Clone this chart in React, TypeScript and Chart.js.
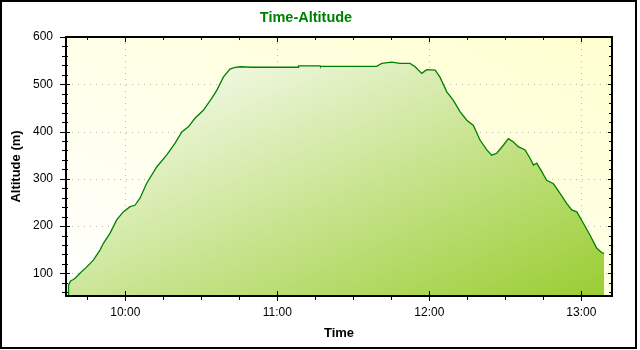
import React, { useEffect, useRef } from 'react';
import { Chart, registerables } from 'chart.js';

Chart.register(...registerables);

// ---- Data ----
const TIMES: string[] = [
  '09:37:24', '09:37:36', '09:38:24', '09:39:30', '09:40:30', '09:42:06', '09:44:30', '09:47:24',
  '09:50:00', '09:51:18', '09:54:00', '09:56:36', '09:59:12', '10:01:54', '10:03:48', '10:05:48',
  '10:08:24', '10:12:24', '10:16:18', '10:19:36', '10:22:18', '10:24:54', '10:27:30', '10:30:48',
  '10:34:06', '10:36:06', '10:38:42', '10:41:18', '10:43:00', '10:45:18', '10:49:54', '11:08:18',
  '11:08:24', '11:16:54', '11:17:00', '11:39:12', '11:41:12', '11:45:12', '11:48:24', '11:52:24',
  '11:54:24', '11:57:00', '11:59:00', '12:02:18', '12:04:12', '12:06:54', '12:09:30', '12:12:06',
  '12:14:48', '12:17:24', '12:20:00', '12:22:42', '12:24:36', '12:26:36', '12:29:12', '12:31:12',
  '12:33:12', '12:35:06', '12:37:48', '12:39:48', '12:41:06', '12:42:24', '12:44:24', '12:46:18',
  '12:48:54', '12:51:36', '12:54:12', '12:56:12', '12:58:12', '13:00:48', '13:03:24', '13:06:06',
  '13:08:00', '13:09:00',
];
const ALTITUDES: number[] = [
  52, 75, 84, 87, 91, 100, 112, 128,
  149, 163, 185, 213, 230, 241, 244, 259,
  290, 325, 350, 375, 399, 410, 428, 445,
  470, 487, 515, 532, 535, 537, 536, 536,
  539, 539, 538, 538, 544, 547, 544, 544,
  537, 523, 531, 530, 515, 484, 466, 442,
  424, 413, 382, 361, 350, 354, 371, 385,
  378, 368, 361, 343, 329, 333, 315, 297,
  290, 269, 248, 234, 230, 206, 181, 153,
  144, 142,
];
const X_TICK_LABELS: string[] = ['10:00', '11:00', '12:00', '13:00'];
const Y_TICK_VALUES: number[] = [100, 200, 300, 400, 500, 600];
const X_MIN_TIME = '09:36:36';
const X_MAX_TIME = '13:12:06';
const Y_MIN = 52;
const Y_MAX = 600;
const X_MINOR_STEP = 15; // minutes
const Y_MINOR_STEP = 20; // metres

const TITLE = 'Time-Altitude';
const X_TITLE = 'Time';
const Y_TITLE = 'Altitude (m)';

// ---- Styles ----
const FONT = '"Liberation Sans", Arial, sans-serif';
const LINE_COLOR = '#008000';
const FILL_START = '#ffffff';
const FILL_END = '#9acd32';
const BG_START = '#ffffff';
const BG_END = '#ffffd0';
const GRID_COLOR = '#b8b8b8';

const toMin = (s: string): number => {
  const [h, m, sec = '0'] = s.split(':');
  return Number(h) * 60 + Number(m) + Number(sec) / 60;
};
const X_TICK_VALUES = X_TICK_LABELS.map(toMin);

// Gradient whose isolines run along the box's other diagonal (normalised-box diagonal gradient)
function boxDiagonalGradient(ctx: CanvasRenderingContext2D, l: number, t: number, w: number, h: number, fromBottom: boolean) {
  const gx = 1 / (2 * w);
  const gy = (fromBottom ? -1 : 1) / (2 * h);
  const n = gx * gx + gy * gy;
  const x0 = l;
  const y0 = fromBottom ? t + h : t;
  return ctx.createLinearGradient(x0, y0, x0 + gx / n, y0 + gy / n);
}

const decor = {
  id: 'decor',
  beforeDatasetsDraw(chart: any) {
    const { ctx, chartArea: a, scales } = chart;
    const x = scales.x;
    const y = scales.y;
    ctx.save();
    const g = boxDiagonalGradient(ctx, a.left, a.top, a.width, a.height, true);
    g.addColorStop(0, BG_START);
    g.addColorStop(1, BG_END);
    ctx.fillStyle = g;
    ctx.fillRect(a.left, a.top, a.width, a.height);

    ctx.strokeStyle = GRID_COLOR;
    ctx.lineWidth = 1;
    ctx.setLineDash([1, 5]);
    for (const v of X_TICK_VALUES) {
      const px = Math.round(x.getPixelForValue(v)) + 0.5;
      ctx.beginPath();
      ctx.moveTo(px, a.top);
      ctx.lineTo(px, a.bottom);
      ctx.stroke();
    }
    for (const v of Y_TICK_VALUES) {
      const py = Math.round(y.getPixelForValue(v)) + 0.5;
      ctx.beginPath();
      ctx.moveTo(a.left, py);
      ctx.lineTo(a.right, py);
      ctx.stroke();
    }
    ctx.restore();
  },
  afterDatasetsDraw(chart: any) {
    const { ctx, chartArea: a, scales } = chart;
    const x = scales.x;
    const y = scales.y;
    ctx.save();
    ctx.setLineDash([]);
    ctx.strokeStyle = '#000';
    ctx.lineWidth = 2;
    ctx.strokeRect(a.left, a.top, a.width, a.height);
    ctx.lineWidth = 1;
    const seg = (x1: number, y1: number, x2: number, y2: number) => {
      ctx.beginPath();
      ctx.moveTo(x1, y1);
      ctx.lineTo(x2, y2);
      ctx.stroke();
    };
    for (let v = Math.ceil(Y_MIN / Y_MINOR_STEP) * Y_MINOR_STEP; v <= Y_MAX; v += Y_MINOR_STEP) {
      const py = Math.round(y.getPixelForValue(v)) + 0.5;
      const major = v % 100 === 0;
      seg(a.left - (major ? 6 : 4), py, a.left + (major ? 4 : 2), py);
      seg(a.right - (major ? 4 : 3), py, a.right, py);
    }
    const xmin = toMin(X_MIN_TIME);
    const xmax = toMin(X_MAX_TIME);
    for (let v = Math.ceil(xmin / X_MINOR_STEP) * X_MINOR_STEP; v <= xmax; v += X_MINOR_STEP) {
      const px = Math.round(x.getPixelForValue(v)) + 0.5;
      const major = v % 60 === 0;
      seg(px, a.bottom - (major ? 5 : 1), px, a.bottom + (major ? 5 : 4));
      seg(px, a.top, px, a.top + (major ? 5 : 3));
    }
    ctx.restore();
  },
  afterDraw(chart: any) {
    const { ctx } = chart;
    ctx.save();
    ctx.strokeStyle = '#000';
    ctx.lineWidth = 2;
    ctx.setLineDash([]);
    ctx.strokeRect(1, 1, 635, 347);
    ctx.restore();
  },
};

export default function App() {
  const ref = useRef<HTMLCanvasElement | null>(null);
  useEffect(() => {
    const canvas = ref.current;
    if (!canvas) return;
    const data = TIMES.map((t, i) => ({ x: toMin(t), y: ALTITUDES[i] }));
    const chart = new Chart(canvas, {
      type: 'line',
      data: {
        datasets: [
          {
            data,
            borderColor: LINE_COLOR,
            borderWidth: 1.3,
            pointRadius: 0,
            tension: 0,
            fill: 'start',
            backgroundColor: (c: any) => {
              const ch = c.chart;
              const a = ch.chartArea;
              if (!a || !ch.scales.x) return FILL_END;
              const l = ch.scales.x.getPixelForValue(toMin(TIMES[0]));
              const r = ch.scales.x.getPixelForValue(toMin(TIMES[TIMES.length - 1]));
              const top = ch.scales.y.getPixelForValue(Math.max(...ALTITUDES));
              const g = boxDiagonalGradient(ch.ctx, l, top, r - l, a.bottom - top, false);
              g.addColorStop(0, FILL_START);
              g.addColorStop(1, FILL_END);
              return g;
            },
          },
        ],
      },
      options: {
        animation: false,
        responsive: false,
        devicePixelRatio: 1,
        layout: { padding: { left: 0, right: 28, top: 0, bottom: 0 } },
        plugins: {
          legend: { display: false },
          tooltip: { enabled: false },
          title: {
            display: true,
            text: TITLE,
            color: LINE_COLOR,
            font: { family: FONT, size: 14.5, weight: 'bold' },
            padding: { top: 9, bottom: 10.6 },
          },
        },
        scales: {
          x: {
            type: 'linear',
            min: toMin(X_MIN_TIME),
            max: toMin(X_MAX_TIME),
            grid: { display: false, drawTicks: false },
            border: { display: false },
            afterBuildTicks: (s: any) => {
              s.ticks = X_TICK_VALUES.map((v) => ({ value: v }));
            },
            afterFit: (s: any) => {
              s.height = 54;
            },
            ticks: {
              autoSkip: false,
              maxRotation: 0,
              padding: 9.5,
              color: '#000',
              font: { family: FONT, size: 12 },
              callback: (v: any) => {
                const i = X_TICK_VALUES.indexOf(Number(v));
                return i >= 0 ? X_TICK_LABELS[i] : '';
              },
            },
            title: {
              display: true,
              text: X_TITLE,
              color: '#000',
              font: { family: FONT, size: 13, weight: 'bold' },
              padding: { top: 0, bottom: 9.2 },
            },
          },
          y: {
            type: 'linear',
            min: Y_MIN,
            max: Y_MAX,
            grid: { display: false, drawTicks: false },
            border: { display: false },
            afterBuildTicks: (s: any) => {
              s.ticks = Y_TICK_VALUES.map((v) => ({ value: v }));
            },
            afterFit: (s: any) => {
              s.width = 66;
            },
            ticks: {
              padding: 13,
              color: '#000',
              font: { family: FONT, size: 12 },
            },
            title: {
              display: true,
              text: Y_TITLE,
              color: '#000',
              font: { family: FONT, size: 13, weight: 'bold' },
              padding: { top: 8.5, bottom: 0 },
            },
          },
        },
      },
      plugins: [decor],
    } as any);
    return () => chart.destroy();
  }, []);
  return (
    <div style={{ position: 'fixed', left: 0, top: 0, width: 640, height: 350, background: '#fff' }}>
      <canvas ref={ref} width={640} height={350} style={{ display: 'block', width: 640, height: 350 }} />
    </div>
  );
}
